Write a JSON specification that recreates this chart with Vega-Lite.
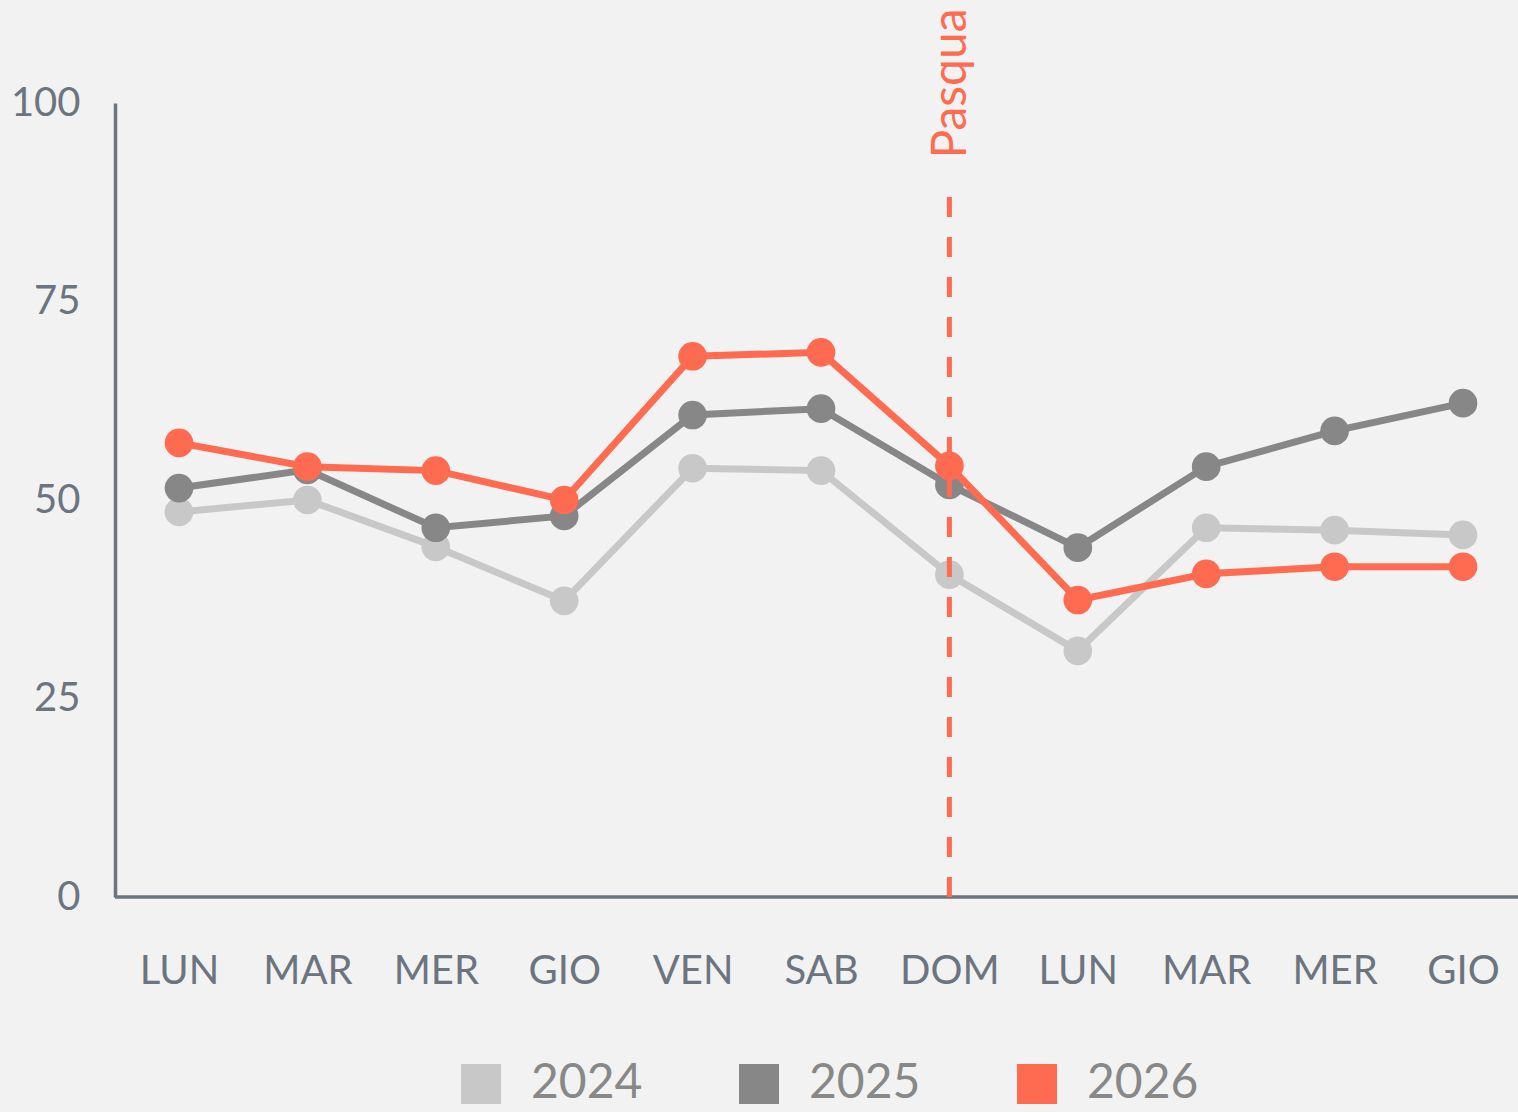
{
  "$schema": "https://vega.github.io/schema/vega-lite/v6.json",
  "autosize": {"type": "none"},
  "padding": {"left": 115, "top": 103, "right": 0, "bottom": 215},
  "width": 1403,
  "height": 794,
  "background": "#f2f2f2",
  "config": {
    "font": "Lato",
    "view": {"stroke": null},
    "axis": {"grid": false, "ticks": false}
  },
  "datasets": {
    "series": [
      {"key": "0-LUN", "year": "2024", "value": 48.5},
      {"key": "1-MAR", "year": "2024", "value": 50.0},
      {"key": "2-MER", "year": "2024", "value": 44.1},
      {"key": "3-GIO", "year": "2024", "value": 37.3},
      {"key": "4-VEN", "year": "2024", "value": 54.0},
      {"key": "5-SAB", "year": "2024", "value": 53.7},
      {"key": "6-DOM", "year": "2024", "value": 40.6},
      {"key": "7-LUN", "year": "2024", "value": 31.0},
      {"key": "8-MAR", "year": "2024", "value": 46.5},
      {"key": "9-MER", "year": "2024", "value": 46.2},
      {"key": "10-GIO", "year": "2024", "value": 45.6},
      {"key": "0-LUN", "year": "2025", "value": 51.5},
      {"key": "1-MAR", "year": "2025", "value": 53.8},
      {"key": "2-MER", "year": "2025", "value": 46.5},
      {"key": "3-GIO", "year": "2025", "value": 48.0},
      {"key": "4-VEN", "year": "2025", "value": 60.7},
      {"key": "5-SAB", "year": "2025", "value": 61.5},
      {"key": "6-DOM", "year": "2025", "value": 51.9},
      {"key": "7-LUN", "year": "2025", "value": 44.0},
      {"key": "8-MAR", "year": "2025", "value": 54.2},
      {"key": "9-MER", "year": "2025", "value": 58.7},
      {"key": "10-GIO", "year": "2025", "value": 62.2},
      {"key": "0-LUN", "year": "2026", "value": 57.2},
      {"key": "1-MAR", "year": "2026", "value": 54.2},
      {"key": "2-MER", "year": "2026", "value": 53.7},
      {"key": "3-GIO", "year": "2026", "value": 50.0},
      {"key": "4-VEN", "year": "2026", "value": 68.1},
      {"key": "5-SAB", "year": "2026", "value": 68.6},
      {"key": "6-DOM", "year": "2026", "value": 54.3},
      {"key": "7-LUN", "year": "2026", "value": 37.4},
      {"key": "8-MAR", "year": "2026", "value": 40.7},
      {"key": "9-MER", "year": "2026", "value": 41.6},
      {"key": "10-GIO", "year": "2026", "value": 41.6}
    ],
    "event": [
      {"key": "6-DOM", "base": 0, "top": 88.2, "labelpos": 93.0, "label": "Pasqua"}
    ]
  },
  "data": {"name": "series"},
  "encoding": {
    "x": {
      "field": "key",
      "type": "ordinal",
      "scale": {
        "type": "point",
        "domain": ["0-LUN", "1-MAR", "2-MER", "3-GIO", "4-VEN", "5-SAB", "6-DOM", "7-LUN", "8-MAR", "9-MER", "10-GIO"],
        "range": [64, 1348],
        "padding": 0
      },
      "axis": {
        "title": null,
        "domain": false,
        "labelAngle": 0,
        "labelExpr": "split(datum.label, '-')[1]",
        "labelFontSize": 40,
        "labelColor": "#6c757f",
        "labelPadding": 54,
        "labelBaseline": "top"
      }
    },
    "y": {
      "field": "value",
      "type": "quantitative",
      "scale": {"domain": [0, 100], "nice": false},
      "axis": {
        "title": null,
        "values": [0, 25, 50, 75, 100],
        "domain": true,
        "domainColor": "#6c757f",
        "domainWidth": 3.5,
        "labelFontSize": 40,
        "labelColor": "#6c757f",
        "labelPadding": 35
      }
    },
    "color": {
      "field": "year",
      "type": "nominal",
      "scale": {"domain": ["2024", "2025", "2026"], "range": ["#c8c8c8", "#878787", "#ff6b50"]},
      "legend": {
        "title": null,
        "orient": "none",
        "direction": "horizontal",
        "legendX": 342,
        "legendY": 957,
        "padding": 0,
        "symbolType": "square",
        "symbolSize": 1600,
        "symbolStrokeWidth": 0,
        "symbolOpacity": 1,
        "labelFontSize": 48,
        "labelColor": "#888888",
        "labelOffset": 26,
        "columnPadding": 92,
        "symbolOffset": 0,
        "encode": {
          "symbols": {"update": {"fill": {"scale": "color", "field": "value"}, "stroke": {"value": "transparent"}, "opacity": {"value": 1}}}
        }
      }
    }
  },
  "layer": [
    {"transform": [{"filter": "datum.year === '2024'"}], "mark": {"type": "line", "strokeWidth": 7}},
    {"transform": [{"filter": "datum.year === '2024'"}], "mark": {"type": "point", "filled": true, "size": 820, "opacity": 1}},
    {"transform": [{"filter": "datum.year === '2025'"}], "mark": {"type": "line", "strokeWidth": 7}},
    {"transform": [{"filter": "datum.year === '2025'"}], "mark": {"type": "point", "filled": true, "size": 820, "opacity": 1}},
    {"transform": [{"filter": "datum.year === '2026'"}], "mark": {"type": "line", "strokeWidth": 7}},
    {"transform": [{"filter": "datum.year === '2026'"}], "mark": {"type": "point", "filled": true, "size": 820, "opacity": 1}},
    {
      "data": {"name": "event"},
      "mark": {"type": "rule", "color": "#6c757f", "strokeWidth": 3.5},
      "encoding": {"x": null, "y": {"field": "base", "type": "quantitative"}, "color": null}
    },
    {
      "data": {"name": "event"},
      "mark": {"type": "rule", "color": "#ff6b50", "strokeWidth": 5, "strokeDash": [20, 20]},
      "encoding": {
        "y": {"field": "base", "type": "quantitative"},
        "y2": {"field": "top"},
        "color": null
      }
    },
    {
      "data": {"name": "event"},
      "mark": {"type": "text", "angle": 270, "align": "left", "baseline": "middle", "fontSize": 48, "dy": 3, "color": "#ff6b50"},
      "encoding": {
        "y": {"field": "labelpos", "type": "quantitative"},
        "text": {"field": "label"},
        "color": null
      }
    }
  ]
}
